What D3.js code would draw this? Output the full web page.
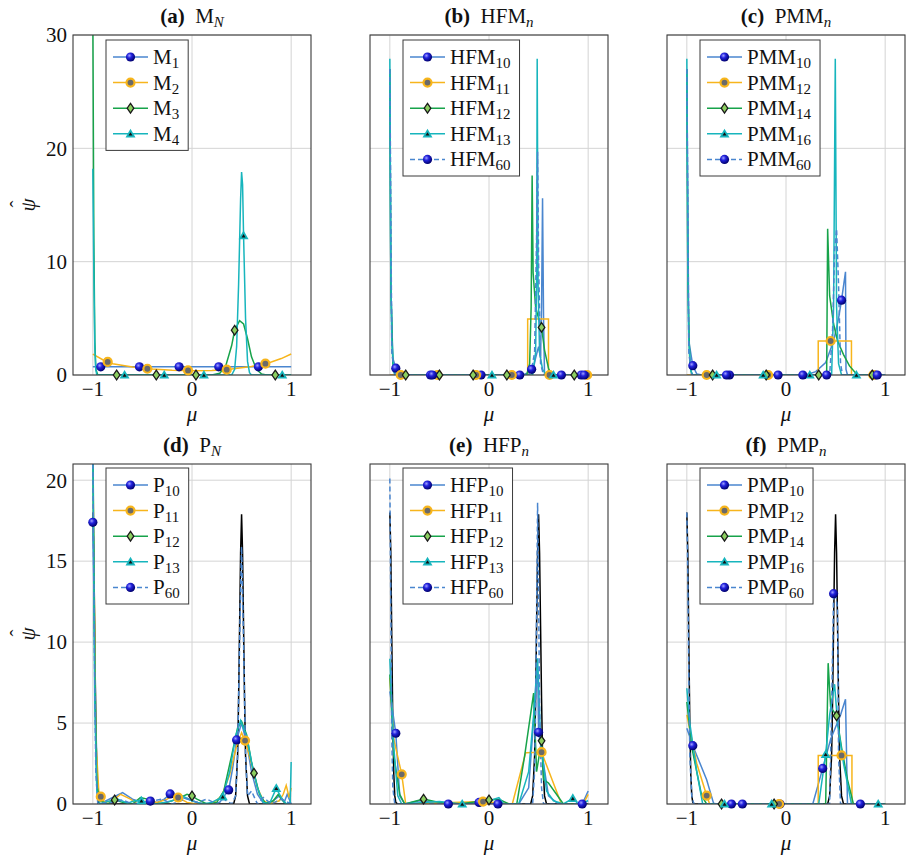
<!DOCTYPE html>
<html>
<head>
<meta charset="utf-8">
<script src="https://cdn.jsdelivr.net/npm/d3@7"></script>
<style>
  body { margin: 0; background: #fff; }
  text { font-family: 'Liberation Serif', 'DejaVu Serif', serif; fill: #111; }
</style>
</head>
<body>
<svg id="chart" width="906" height="861"></svg>
<script>
// ---- data (mu, psi) ----
const xTicks = [-1, 0, 1];
const topTicks = [0, 10, 20, 30];
const bottomTicks = [0, 5, 10, 15, 20];

// exact reference curve (black), bottom row
const refLine = [[-1,18],[-0.99,15.5],[-0.98,10],[-0.97,5],[-0.96,1.8],[-0.95,0.5],[-0.94,0.1],[-0.92,0],
  [0.42,0],[0.44,0.5],[0.46,3],[0.47,6.5],[0.48,11],[0.49,15.5],[0.5,17.9],[0.51,15.5],[0.52,11],
  [0.53,6.5],[0.54,3],[0.56,0.5],[0.58,0],[1,0]];

// (a) M_N
const mLabels = ['1', '2', '3', '4'];
const m1 = [[-1,0.72],[1,0.72]];
const m1Marks = [[-0.92,0.72],[-0.53,0.72],[-0.13,0.72],[0.27,0.72],[0.67,0.72]];
const m2 = [[-1,1.85],[-0.9,1.35],[-0.8,1.0],[-0.6,0.7],[-0.4,0.52],[-0.2,0.42],[0,0.38],[0.2,0.4],
  [0.4,0.52],[0.6,0.75],[0.8,1.15],[0.9,1.45],[1,1.85]];
const m2Marks = [[-0.85,1.15],[-0.45,0.55],[-0.04,0.4],[0.35,0.47],[0.74,1.0]];
const m3 = [[-1,32],[-0.99,12],[-0.98,3],[-0.97,0.5],[-0.95,0],[0.2,0],[0.28,0.15],[0.34,0.8],[0.4,2.6],
  [0.43,3.95],[0.48,4.8],[0.52,4.5],[0.56,3.2],[0.6,1.6],[0.65,0.5],[0.7,0.1],[0.75,0],[1,0]];
const m3Marks = [[-0.76,0],[-0.36,0],[0.04,0],[0.43,3.95],[0.84,0]];
const m4 = [[-1,18.2],[-0.99,9],[-0.98,2.5],[-0.97,0.5],[-0.96,0],[0.4,0],[0.43,0.5],[0.45,2.5],[0.47,8],
  [0.49,15.5],[0.5,17.9],[0.51,16.8],[0.52,12.3],[0.54,5],[0.56,1.2],[0.58,0.2],[0.6,0],[1,0]];
const m4Marks = [[-0.68,0],[-0.28,0],[0.12,0],[0.52,12.3],[0.91,0]];

// (b) HFM_n
const hfmLabels = ['10', '11', '12', '13', '60'];
const hfm10 = [[-1,27],[-0.99,8],[-0.97,1.5],[-0.94,0.6],[-0.9,0],[0.3,0],[0.36,0.1],[0.44,0.3],[0.47,1.5],
  [0.5,2.5],[0.52,1.5],[0.53,6],[0.54,15.6],[0.55,5],[0.56,0],[1,0]];
const hfm10Marks = [[-0.94,0.6],[-0.59,0],[-0.08,0],[0.31,0],[0.73,0],[0.93,0]];
const hfm11 = [[-1,0],[0.39,0],[0.39,4.95],[0.6,4.95],[0.6,0],[1,0]];
const hfm11Marks = [[-0.89,0],[-0.52,0],[-0.13,0],[0.23,0],[0.61,0],[0.99,0]];
const hfm12 = [[-1,27],[-0.99,8],[-0.97,1],[-0.95,0],[0.38,0],[0.41,1],[0.425,6],[0.435,17.6],[0.445,9],
  [0.47,6],[0.5,5],[0.53,4.2],[0.56,2.2],[0.6,0.6],[0.63,0],[1,0]];
const hfm12Marks = [[-0.84,0],[-0.5,0],[-0.16,0],[0.18,0],[0.53,4.2],[0.86,0]];
const hfm13 = [[-1,27.9],[-0.99,9],[-0.98,3],[-0.96,0.3],[-0.94,0],[0.44,0],[0.47,2],[0.48,8],[0.486,27.9],
  [0.495,8],[0.51,2],[0.54,0.5],[0.58,0],[1,0]];
const hfm13Marks = [[0.03,0],[0.65,0]];
const hfm60 = [[-1,27],[-0.98,2],[-0.95,0],[0.4,0],[0.43,0.5],[0.46,2],[0.48,12],[0.49,19.7],[0.5,10],
  [0.52,1],[0.55,0],[1,0]];
const hfm60Marks = [[-0.57,0],[0.43,0.5],[0.96,0]];

// (c) PMM_n
const pmmLabels = ['10', '12', '14', '16', '60'];
const pmm10 = [[-1,27],[-0.98,3],[-0.94,0.82],[-0.9,0.1],[-0.85,0],[0.2,0],[0.3,0.3],[0.4,1.1],[0.48,3],
  [0.53,5],[0.56,6.6],[0.6,9.1],[0.605,0.5],[0.62,0],[1,0]];
const pmm10Marks = [[-0.94,0.82],[-0.57,0],[-0.08,0],[0.56,6.6],[0.9,0]];
const pmm12 = [[-1,0],[0.325,0],[0.325,3],[0.66,3],[0.66,0],[1,0]];
const pmm12Marks = [[-0.8,0],[-0.18,0],[0.45,3],[0.88,0]];
const pmm14 = [[-1,27],[-0.99,8],[-0.97,1],[-0.95,0],[0.41,0],[0.42,12.9],[0.44,7],[0.48,4.5],[0.52,3],
  [0.58,1.8],[0.64,0.8],[0.7,0.2],[0.72,0],[1,0]];
const pmm14Marks = [[-0.74,0],[-0.2,0],[0.33,0],[0.87,0]];
const pmm16 = [[-1,27.9],[-0.99,9],[-0.98,3],[-0.96,0.4],[-0.94,0],[0.46,0],[0.48,6],[0.497,27.9],
  [0.51,6],[0.53,1],[0.56,0],[1,0]];
const pmm16Marks = [[-0.7,0],[-0.23,0],[0.24,0],[0.71,0]];
const pmm60 = [[-1,27],[-0.98,2],[-0.95,0],[0.44,0],[0.47,4],[0.49,11],[0.51,12.9],[0.53,8],[0.55,1],
  [0.57,0],[1,0]];
const pmm60Marks = [[-0.6,0],[0.17,0],[0.41,0],[0.92,0]];

// (d) P_N
const pLabels = ['10', '11', '12', '13', '60'];
const p10 = [[-1,17.4],[-0.97,5],[-0.95,0.5],[-0.9,0.1],[-0.8,0.4],[-0.7,0.7],[-0.6,0.3],[-0.5,0.1],
  [-0.42,0.18],[-0.35,0.1],[-0.28,0.3],[-0.22,0.62],[-0.15,0.5],[-0.05,0.3],[0.05,0.1],[0.15,0],[0.28,0.1],
  [0.37,0.87],[0.41,2.2],[0.45,3.96],[0.5,5.0],[0.55,3.8],[0.6,2.0],[0.66,0.6],[0.72,0.05],[0.8,0.1],
  [0.88,0.5],[0.93,0.1],[0.96,0.6],[1,0]];
const p10Marks = [[-1,17.4],[-0.22,0.62],[0.37,0.87],[0.45,3.96]];
const p11 = [[-1,21.5],[-0.97,4],[-0.94,0.8],[-0.92,0.45],[-0.88,0.1],[-0.8,0.2],[-0.72,0.6],[-0.62,0.3],
  [-0.55,0],[-0.45,0.2],[-0.35,0.1],[-0.25,0.3],[-0.2,0.5],[-0.14,0.4],[-0.05,0.1],[0.05,0],[0.2,0],
  [0.3,0.5],[0.38,1.8],[0.45,3.6],[0.5,4.4],[0.535,3.92],[0.6,2.5],[0.66,1.0],[0.72,0.2],[0.78,0],
  [0.88,0.2],[0.92,0.6],[0.95,1.15],[0.98,0.4],[1,1]];
const p11Marks = [[-0.92,0.45],[-0.14,0.4],[0.535,3.92]];
const p12 = [[-1,23],[-0.98,8],[-0.96,1.2],[-0.93,0.2],[-0.85,0],[-0.78,0.25],[-0.7,0.1],[-0.6,0],
  [-0.52,0.4],[-0.45,0.3],[-0.38,0],[-0.25,0.1],[-0.15,0.3],[-0.05,0.6],[0,0.5],[0.05,0.3],[0.15,0],
  [0.25,0.1],[0.32,0.8],[0.4,3],[0.46,4.7],[0.5,5.1],[0.55,4.3],[0.6,2.6],[0.625,1.9],[0.68,0.6],
  [0.74,0.05],[0.82,0.2],[0.87,0.6],[0.9,0.3],[0.95,0],[1,0]];
const p12Marks = [[-0.78,0.25],[0,0.5],[0.625,1.9]];
const p13 = [[-1,21.5],[-0.98,6],[-0.96,0.8],[-0.93,0],[-0.85,0.15],[-0.75,0.3],[-0.65,0.05],[-0.58,0.2],
  [-0.51,0.2],[-0.45,0.1],[-0.35,0],[-0.2,0.2],[-0.1,0.5],[0,0.2],[0.1,0],[0.2,0.1],[0.31,0.45],[0.38,2],
  [0.44,4.2],[0.49,5.15],[0.55,4.2],[0.6,2.6],[0.66,1.0],[0.72,0.1],[0.78,0],[0.85,0.97],[0.9,0.4],
  [0.95,0],[0.99,0.1],[1,2.6]];
const p13Marks = [[-0.51,0.2],[0.31,0.45],[0.85,0.97]];
const p60 = [[-1,21.5],[-0.985,10],[-0.97,2],[-0.95,0],[-0.8,0.1],[-0.7,0.25],[-0.6,0],[-0.42,0.18],
  [-0.3,0.3],[-0.2,0],[-0.05,0.35],[0.05,0.1],[0.15,0.3],[0.25,0],[0.32,0.3],[0.4,0],[0.44,0.5],[0.46,3],
  [0.48,10],[0.5,15.9],[0.52,10],[0.54,3],[0.56,0.5],[0.6,0.8],[0.66,0],[0.72,0.4],[0.8,0],[0.9,0.3],[1,0]];
const p60Marks = [[-0.42,0.18]];

// (e) HFP_n
const hfpLabels = ['10', '11', '12', '13', '60'];
const hfp10 = [[-1,6.95],[-0.94,4.37],[-0.9,0.5],[-0.85,0],[-0.7,0.2],[-0.41,0],[-0.1,0.1],[0.09,0],
  [0.3,0],[0.4,1],[0.46,6],[0.49,8.5],[0.5,4.43],[0.55,2.5],[0.6,0.5],[0.7,0],[0.94,0],[1,0.8]];
const hfp10Marks = [[-0.94,4.37],[-0.1,0.1],[0.09,0],[0.5,4.43],[0.94,0]];
const hfp11 = [[-1,7.8],[-0.96,4],[-0.88,1.83],[-0.84,0],[-0.06,0.15],[0.235,0],[0.37,3.17],[0.53,3.2],
  [0.73,0],[0.95,0],[1,0.6]];
const hfp11Marks = [[-0.88,1.83],[-0.06,0.15],[0.53,3.2]];
const hfp12 = [[-1,8],[-0.96,3],[-0.9,0.6],[-0.85,0],[-0.66,0.3],[-0.5,0.1],[-0.3,0],[0,0.25],[0.1,0.3],
  [0.2,0],[0.28,0],[0.36,3],[0.45,6.85],[0.48,2],[0.53,3.9],[0.55,1.5],[0.6,1.3],[0.75,0],[1,0]];
const hfp12Marks = [[-0.66,0.3],[0,0.25],[0.53,3.9]];
const hfp13 = [[-1,8.97],[-0.96,3.5],[-0.92,0.5],[-0.88,0],[-0.66,0.1],[-0.5,0.15],[-0.27,0],[-0.1,0],
  [0.1,0.4],[0.15,0],[0.3,0],[0.4,2],[0.45,5.5],[0.49,9],[0.52,4],[0.58,0.8],[0.65,0.2],[0.75,0],
  [0.845,0.35],[0.9,0],[1,0.2]];
const hfp13Marks = [[-0.27,0],[0.845,0.35]];
const hfp60 = [[-1,20.1],[-0.99,12],[-0.98,4],[-0.97,1],[-0.95,0],[0.44,0],[0.46,2],[0.47,6],[0.48,12],
  [0.49,18.6],[0.5,13],[0.51,6],[0.53,1],[0.55,0],[1,0]];
const hfp60Marks = [[-0.41,0]];

// (f) PMP_n
const pmpLabels = ['10', '12', '14', '16', '60'];
const pmp10 = [[-1,4.68],[-0.94,3.6],[-0.8,1.5],[-0.73,0.04],[-0.7,0],[0.27,0],[0.37,2.2],[0.45,4],
  [0.55,5.5],[0.6,6.47],[0.62,0],[1,0]];
const pmp10Marks = [[-0.94,3.6],[-0.55,0],[-0.44,0],[-0.06,0],[0.37,2.2],[0.75,0]];
const pmp12 = [[-1,5.5],[-0.9,2.5],[-0.8,0.52],[-0.77,0],[0.325,0],[0.325,3],[0.665,3],[0.665,0],[1,0]];
const pmp12Marks = [[-0.8,0.52],[-0.07,0],[0.56,3]];
const pmp14 = [[-1,6.3],[-0.95,3.5],[-0.85,0.5],[-0.8,0],[0.4,0],[0.425,8.7],[0.45,6],[0.51,5.45],
  [0.56,3.5],[0.62,1.5],[0.68,0],[1,0]];
const pmp14Marks = [[-0.65,0],[-0.12,0],[0.51,5.45]];
const pmp16 = [[-1,7.15],[-0.97,5],[-0.9,2],[-0.84,0],[0.33,0],[0.4,3.07],[0.44,5.5],[0.49,7.4],[0.52,5],
  [0.58,2.5],[0.66,0],[1,0]];
const pmp16Marks = [[-0.62,0],[-0.145,0],[0.4,3.07],[0.93,0]];
const pmp60 = [[-1,18],[-0.99,14],[-0.98,8],[-0.97,3],[-0.95,0.5],[-0.93,0],[0.44,0],[0.46,6],[0.48,12.99],
  [0.5,13],[0.52,12],[0.53,3],[0.55,0],[1,0]];
const pmp60Marks = [[0.48,12.99]];

// ---- layout ----
const plotW = 238, plotH = 340;
const colLeft = [73, 370, 667];
const rowTop = [35, 464];
const fontSize = 21, subSize = 15;

const styles = [
  { color: '#4a86cf', dash: null, marker: 'ball' },
  { color: '#f7b51c', dash: null, marker: 'ring' },
  { color: '#17a34a', dash: null, marker: 'diamond' },
  { color: '#17b5bd', dash: null, marker: 'triangle' },
  { color: '#4a86cf', dash: '5,3', marker: 'ball' }
];

const panels = [
  { tag: '(a)', base: 'M', sub: 'N', col: 0, row: 0, yMax: 30, yTicks: topTicks, ref: false,
    labels: mLabels, series: [[m1, m1Marks], [m2, m2Marks], [m3, m3Marks], [m4, m4Marks]] },
  { tag: '(b)', base: 'HFM', sub: 'n', col: 1, row: 0, yMax: 30, yTicks: topTicks, ref: false,
    labels: hfmLabels, series: [[hfm10, hfm10Marks], [hfm11, hfm11Marks], [hfm12, hfm12Marks], [hfm13, hfm13Marks], [hfm60, hfm60Marks]] },
  { tag: '(c)', base: 'PMM', sub: 'n', col: 2, row: 0, yMax: 30, yTicks: topTicks, ref: false,
    labels: pmmLabels, series: [[pmm10, pmm10Marks], [pmm12, pmm12Marks], [pmm14, pmm14Marks], [pmm16, pmm16Marks], [pmm60, pmm60Marks]] },
  { tag: '(d)', base: 'P', sub: 'N', col: 0, row: 1, yMax: 21, yTicks: bottomTicks, ref: true,
    labels: pLabels, series: [[p10, p10Marks], [p11, p11Marks], [p12, p12Marks], [p13, p13Marks], [p60, p60Marks]] },
  { tag: '(e)', base: 'HFP', sub: 'n', col: 1, row: 1, yMax: 21, yTicks: bottomTicks, ref: true,
    labels: hfpLabels, series: [[hfp10, hfp10Marks], [hfp11, hfp11Marks], [hfp12, hfp12Marks], [hfp13, hfp13Marks], [hfp60, hfp60Marks]] },
  { tag: '(f)', base: 'PMP', sub: 'n', col: 2, row: 1, yMax: 21, yTicks: bottomTicks, ref: true,
    labels: pmpLabels, series: [[pmp10, pmp10Marks], [pmp12, pmp12Marks], [pmp14, pmp14Marks], [pmp16, pmp16Marks], [pmp60, pmp60Marks]] }
];

const svg = d3.select('#chart');
const defs = svg.append('defs');

// shaded ball for the blue markers
const grad = defs.append('radialGradient').attr('id', 'ball')
  .attr('cx', '38%').attr('cy', '35%').attr('r', '65%');
grad.append('stop').attr('offset', '0%').attr('stop-color', '#a0a0ff');
grad.append('stop').attr('offset', '40%').attr('stop-color', '#2222dd');
grad.append('stop').attr('offset', '100%').attr('stop-color', '#00006e');

function drawMarker(sel, type, cx, cy) {
  const g = sel.append('g').attr('transform', `translate(${cx},${cy})`);
  if (type === 'ball') {
    g.append('circle').attr('r', 4.6).attr('fill', 'url(#ball)');
  } else if (type === 'ring') {
    g.append('circle').attr('r', 4).attr('fill', '#6a6a6a')
      .attr('stroke', '#f7b51c').attr('stroke-width', 2.2);
  } else if (type === 'diamond') {
    g.append('path').attr('d', 'M0,-4.8L3.3,0L0,4.8L-3.3,0Z').attr('fill', '#8ccf60')
      .attr('stroke', '#1a1a1a').attr('stroke-width', 1.3);
  } else {
    g.append('path').attr('d', 'M0,-5L5,3.6L-5,3.6Z').attr('fill', '#17b5bd');
    g.append('path').attr('d', 'M0,-1.6L2,1.8L-2,1.8Z').attr('fill', '#111');
  }
}

panels.forEach((p, pi) => {
  const x0 = colLeft[p.col], y0 = rowTop[p.row];
  const g = svg.append('g').attr('transform', `translate(${x0},${y0})`);

  const x = d3.scaleLinear().domain([-1.2, 1.2]).range([0, plotW]);
  const y = d3.scaleLinear().domain([0, p.yMax]).range([plotH, 0]);

  // grid
  g.selectAll('.gx').data(xTicks).join('line')
    .attr('x1', d => x(d)).attr('x2', d => x(d)).attr('y1', 0).attr('y2', plotH)
    .attr('stroke', '#d4d4d4').attr('stroke-width', 1);
  g.selectAll('.gy').data(p.yTicks).join('line')
    .attr('x1', 0).attr('x2', plotW).attr('y1', d => y(d)).attr('y2', d => y(d))
    .attr('stroke', '#d4d4d4').attr('stroke-width', 1);

  defs.append('clipPath').attr('id', 'clip' + pi)
    .append('rect').attr('width', plotW).attr('height', plotH);
  const plot = g.append('g').attr('clip-path', `url(#clip${pi})`);
  const line = d3.line().x(d => x(d[0])).y(d => y(d[1]));

  if (p.ref) {
    plot.append('path').datum(refLine).attr('d', line)
      .attr('fill', 'none').attr('stroke', '#000').attr('stroke-width', 1.5);
  }
  p.series.forEach((s, i) => {
    const st = styles[i];
    plot.append('path').datum(s[0]).attr('d', line)
      .attr('fill', 'none').attr('stroke', st.color).attr('stroke-width', 1.5)
      .attr('stroke-dasharray', st.dash);
  });

  // frame
  g.append('rect').attr('width', plotW).attr('height', plotH)
    .attr('fill', 'none').attr('stroke', '#3a3a3a').attr('stroke-width', 1.1);

  // markers
  const mk = g.append('g');
  p.series.forEach((s, i) => {
    s[1].forEach(d => drawMarker(mk, styles[i].marker, x(d[0]), y(d[1])));
  });

  // x tick labels
  g.selectAll('.xt').data(xTicks).join('text')
    .attr('x', d => x(d)).attr('y', plotH + 21)
    .attr('text-anchor', 'middle').attr('font-size', fontSize)
    .text(d => d < 0 ? '\u2212' + Math.abs(d) : d);
  g.append('text').attr('x', plotW / 2).attr('y', plotH + 46)
    .attr('text-anchor', 'middle').attr('font-size', fontSize).attr('font-style', 'italic').text('μ');

  // y tick labels (left column only)
  if (p.col === 0) {
    g.selectAll('.yt').data(p.yTicks).join('text')
      .attr('x', -6).attr('y', d => y(d)).attr('dy', '0.35em')
      .attr('text-anchor', 'end').attr('font-size', fontSize).text(d => d);
    const yl = g.append('g').attr('transform', `translate(-38,${plotH / 2}) rotate(-90)`);
    yl.append('text').attr('text-anchor', 'middle').attr('font-size', fontSize)
      .attr('font-style', 'italic').text('ψ');
    yl.append('text').attr('x', 1).attr('y', -10).attr('text-anchor', 'middle')
      .attr('font-size', fontSize).text('\u02C6');
  }

  // title
  const t = g.append('text').attr('x', plotW / 2).attr('y', -12)
    .attr('text-anchor', 'middle').attr('font-size', fontSize);
  t.append('tspan').attr('font-weight', 'bold').text(p.tag);
  t.append('tspan').text('\u2002' + p.base);
  t.append('tspan').attr('font-size', subSize).attr('font-style', 'italic').attr('dy', 4).text(p.sub);

  // legend
  const lg = g.append('g').attr('transform', `translate(33,${p.row === 0 ? 5 : 4})`);
  const box = lg.append('rect').attr('fill', '#fff').attr('stroke', '#3a3a3a').attr('stroke-width', 1);
  let maxW = 0;
  p.labels.forEach((lab, i) => {
    const st = styles[i];
    const cy = 17 + i * 25.6;
    lg.append('line').attr('x1', 7).attr('x2', 42).attr('y1', cy).attr('y2', cy)
      .attr('stroke', st.color).attr('stroke-width', 1.5).attr('stroke-dasharray', st.dash);
    drawMarker(lg, st.marker, 24.5, cy);
    const tx = lg.append('text').attr('x', 47).attr('y', cy + 7).attr('font-size', fontSize);
    tx.append('tspan').text(p.base);
    tx.append('tspan').attr('font-size', subSize).attr('dy', 4).text(lab);
    maxW = Math.max(maxW, tx.node().getComputedTextLength());
  });
  box.attr('width', 47 + maxW + 9).attr('height', p.labels.length * 25.6 + 8);
});
</script>
</body>
</html>
